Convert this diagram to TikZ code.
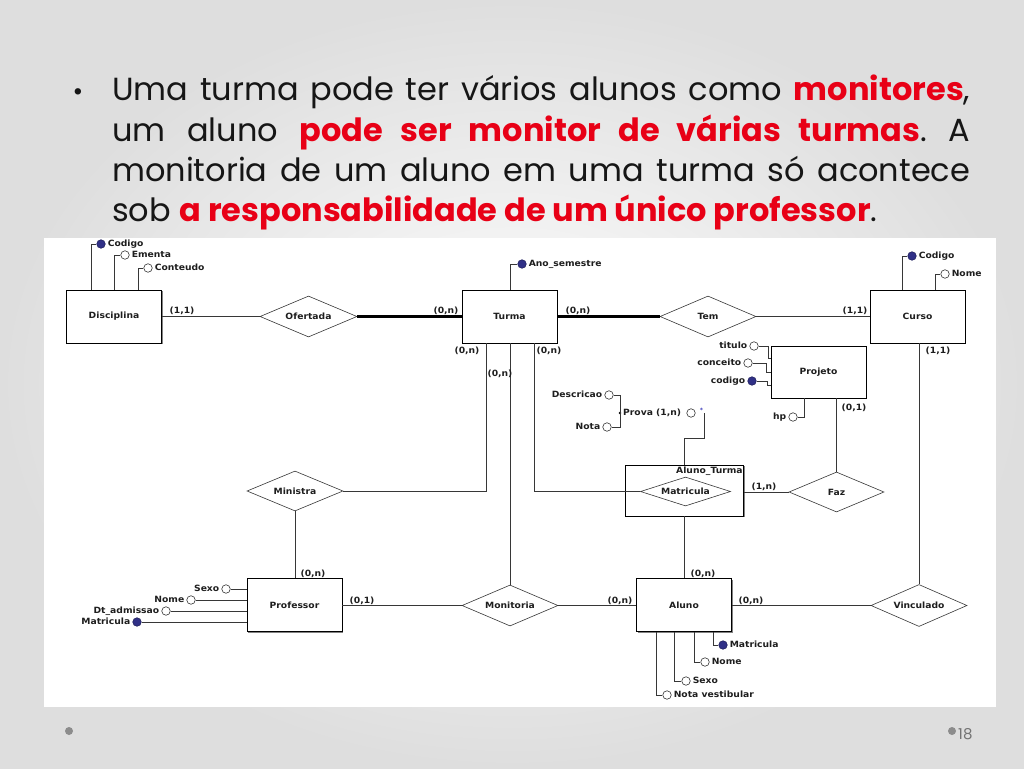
\documentclass[tikz,border=0pt]{standalone}
\usepackage{fontspec}
\setmainfont{Poppins}
\newfontfamily\dgfont{DejaVu Sans}[FakeStretch=1.07]
\usetikzlibrary{shapes.geometric,shadows,calc}
\definecolor{ttl}{RGB}{22,22,22}
\definecolor{hl}{RGB}{232,0,22}
\definecolor{keyc}{RGB}{48,48,135}
\definecolor{dtxt}{RGB}{30,30,30}
\definecolor{lnc}{RGB}{55,55,55}
\definecolor{bgo}{RGB}{222,222,222}
\frenchspacing
\begin{document}
\begin{tikzpicture}[x=1pt,y=-1pt,
  dg/.style={font=\dgfont\bfseries\fontsize{8.6}{9.5}\selectfont,text=dtxt},
  ent/.style={dg,rectangle,draw=black,line width=0.7pt,fill=white,minimum width=95pt,minimum height=53pt,inner sep=0pt,
    drop shadow={shadow xshift=1.4pt,shadow yshift=-1.4pt,opacity=0.75,fill=black!65}},
  rel/.style={dg,diamond,draw=lnc,line width=0.6pt,fill=white,minimum width=96pt,minimum height=41pt,inner sep=0pt,aspect=2.34},
  card/.style={dg,inner sep=0pt},
  atxt/.style={dg,inner sep=0pt},
  att/.style={circle,draw=black!80,line width=0.6pt,fill=white,minimum size=8.5pt,inner sep=0pt},
  key/.style={att,fill=keyc,draw=keyc!70!black},
  ln/.style={draw=lnc,line width=0.6pt},
  thk/.style={draw=black,line width=2.4pt},
  ttxt/.style={inner sep=0pt,text=ttl,font=\fontsize{32}{38}\selectfont\frenchspacing,anchor=base west}
]
\useasboundingbox (0,0) rectangle (1024,768);
\shade[inner color=white,outer color=bgo] (0,0) rectangle (1024,768);
\fill[white] (44,238) rectangle (996,707);

% ---------- title ----------
\node[ttxt,anchor=base,font=\fontsize{26}{30}\selectfont] (bul) at (78,100) {•};
\node[ttxt] (l1) at (112,100) {\hbox to 858pt{Uma turma pode ter vários alunos como {\bfseries\color{hl}monitores},}};
\node[ttxt] (l2) at (112,141) {\hbox to 858pt{um aluno {\bfseries\color{hl}pode ser monitor de várias turmas}. A}};
\node[ttxt] (l3) at (112,181) {\hbox to 858pt{monitoria de um aluno em uma turma só acontece}};
\node[ttxt] (l4) at (112,221) {sob {\bfseries\color{hl}a responsabilidade de um único professor}.};

% ---------- footer ----------
\node[circle,fill=black!45,minimum size=8pt,inner sep=0pt] (fd1) at (69,731) {};
\node[circle,fill=black!45,minimum size=8pt,inner sep=0pt] (fd2) at (952,731) {};
\node[inner sep=0pt,anchor=base west,text=black!55,font=\fontsize{15}{18}\selectfont] (pg) at (958,739) {18};

% ---------- relationships & boxes ----------
\node[ent] (Dis) at (114,316.5) {Disciplina};
\node[ent] (Tur) at (509.5,316.5) {Turma};
\node[ent] (Cur) at (917.5,316.5) {Curso};
\node[ent,minimum height=52pt] (Pro) at (818.5,372) {Projeto};
\node[ent] (Prof) at (294.5,605) {Professor};
\node[ent] (Alu) at (684,605) {Aluno};
\node[ent,minimum width=118pt,minimum height=51pt] (AT) at (684.5,490.5) {};
\node[atxt,anchor=north east] (ATl) at ([xshift=-1pt,yshift=-2.5pt]AT.north east) {Aluno\_Turma};

\node[rel,minimum width=97pt] (Ofe) at (308.5,316.5) {Ofertada};
\node[rel] (Tem) at (708,316.5) {Tem};
\node[rel,minimum height=40pt] (Min) at (295,491) {Ministra};
\node[rel,minimum width=90pt,minimum height=29pt,aspect=3.1] (Mat) at (685.5,491.5) {Matricula};
\node[rel,minimum width=95pt,minimum height=40pt] (Faz) at (836.5,492) {Faz};
\node[rel] (Mon) at (510,605.5) {Monitoria};
\node[rel,minimum height=42pt] (Vin) at (919,605.5) {Vinculado};

% ---------- connectors ----------
\draw[ln] (Dis.east) -- (Ofe.west);
\draw[thk] (Ofe.east) -- (Tur.west);
\draw[thk] (Tur.east) -- (Tem.west);
\draw[ln] (Tem.east) -- (Cur.west);
\draw[ln] (Vin.north |- Cur.south) -- (Vin.north);
\draw[ln] ([xshift=-23pt]Tur.south) |- (Min.east);
\draw[ln] (Mon.north |- Tur.south) -- (Mon.north);
\draw[ln] ([xshift=25pt]Tur.south) |- (Mat.west);
\draw[ln] (Min.south) -- (Min.south |- Prof.north);
\draw[ln] (Prof.east |- Mon.west) -- (Mon.west);
\draw[ln] (Mon.east) -- (Mon.east -| Alu.west);
\draw[ln] (Vin.west -| Alu.east) -- (Vin.west);
\draw[ln] (AT.south) -- (AT.south |- Alu.north);
\draw[ln] (AT.east |- Faz.west) -- (Faz.west);
\draw[ln] (Faz.north |- Pro.south) -- (Faz.north);

% ---------- cardinalities ----------
\node[card] (c1) at (182,311) {(1,1)};
\node[card] (c2) at (446,311) {(0,n)};
\node[card] (c3) at (578,311) {(0,n)};
\node[card] (c4) at (855,311) {(1,1)};
\node[card] (c5) at (938,351) {(1,1)};
\node[card] (c6) at (467,351) {(0,n)};
\node[card] (c7) at (500,374) {(0,n)};
\node[card] (c8) at (549,351) {(0,n)};
\node[card] (c9) at (854,408) {(0,1)};
\node[card] (c10) at (764,487) {(1,n)};
\node[card] (c11) at (313,574) {(0,n)};
\node[card] (c12) at (362,601) {(0,1)};
\node[card] (c13) at (620,601) {(0,n)};
\node[card] (c14) at (703,574) {(0,n)};
\node[card] (c15) at (751,601) {(0,n)};

% ---------- attributes: Disciplina ----------
\node[key] (dA) at (101,244) {};
\node[atxt,anchor=mid west] (dAt) at ([xshift=2pt]dA.east) {Codigo};
\draw[ln] ([xshift=-23pt]Dis.north) |- (dA.west);
\node[att] (dB) at (125,255) {};
\node[atxt,anchor=mid west] (dBt) at ([xshift=2pt]dB.east) {Ementa};
\draw[ln] (Dis.north) |- (dB.west);
\node[att] (dC) at (148,268) {};
\node[atxt,anchor=mid west] (dCt) at ([xshift=2pt]dC.east) {Conteudo};
\draw[ln] ([xshift=24pt]Dis.north) |- (dC.west);

% ---------- Turma ----------
\node[key] (tA) at (522,264) {};
\node[atxt,anchor=mid west] (tAt) at ([xshift=2pt]tA.east) {Ano\_semestre};
\draw[ln] ([xshift=0.5pt]Tur.north) |- (tA.west);

% ---------- Curso ----------
\node[key] (cA) at (912,256) {};
\node[atxt,anchor=mid west] (cAt) at ([xshift=2pt]cA.east) {Codigo};
\draw[ln] ([xshift=-15.5pt]Cur.north) |- (cA.west);
\node[att] (cB) at (945,274) {};
\node[atxt,anchor=mid west] (cBt) at ([xshift=2pt]cB.east) {Nome};
\draw[ln] ([xshift=17.5pt]Cur.north) |- (cB.west);

% ---------- Projeto ----------
\node[att] (pA) at (754,346) {};
\node[atxt,anchor=mid east] (pAt) at ([xshift=-2pt]pA.west) {titulo};
\draw[ln] (pA.east) -- ++(10,0) |- ([yshift=14pt]Pro.west);
\node[att] (pB) at (748,363) {};
\node[atxt,anchor=mid east] (pBt) at ([xshift=-2pt]pB.west) {conceito};
\draw[ln] (pB.east) -- ++(14,0) |- (Pro.west);
\node[key] (pC) at (752,381) {};
\node[atxt,anchor=mid east] (pCt) at ([xshift=-2pt]pC.west) {codigo};
\draw[ln] (pC.east) -- ++(11,0) |- ([yshift=-13pt]Pro.west);
\node[att] (pD) at (793,417) {};
\node[atxt,anchor=mid east] (pDt) at ([xshift=-2pt]pD.west) {hp};
\draw[ln] (pD.east) -| ([xshift=-14.5pt]Pro.south);

% ---------- Prova (multivalued composite) ----------
\node[circle,fill=black,minimum size=2.6pt,inner sep=0pt] (pj) at (620,413) {};
\node[atxt,anchor=mid west] (prt) at (623,413) {Prova (1,n)};
\node[att] (pr) at (691,413) {};
\node[inner sep=0pt,text=blue!65!black,font=\dgfont\fontsize{6}{6}\selectfont] (ast) at (701.5,410) {*};
\coordinate (pe) at (704,413);
\draw[ln] (AT.north) -- ++(0,-26) -| (pe);
\node[att] (de) at (609,395) {};
\node[atxt,anchor=mid east] (det) at ([xshift=-2pt]de.west) {Descricao};
\node[att] (no) at (607,427) {};
\node[atxt,anchor=mid east] (not) at ([xshift=-2pt]no.west) {Nota};
\draw[ln] (de.east) -| (pj.center) |- (no.east);

% ---------- Professor ----------
\node[att] (fA) at (226,589) {};
\node[atxt,anchor=mid east] (fAt) at ([xshift=-2pt]fA.west) {Sexo};
\draw[ln] (fA.east) -- (fA.east -| Prof.west);
\node[att] (fB) at (191,600) {};
\node[atxt,anchor=mid east] (fBt) at ([xshift=-2pt]fB.west) {Nome};
\draw[ln] (fB.east) -- (fB.east -| Prof.west);
\node[att] (fC) at (166,611) {};
\node[atxt,anchor=mid east] (fCt) at ([xshift=-2pt]fC.west) {Dt\_admissao};
\draw[ln] (fC.east) -- (fC.east -| Prof.west);
\node[key] (fD) at (137,622) {};
\node[atxt,anchor=mid east] (fDt) at ([xshift=-2pt]fD.west) {Matricula};
\draw[ln] (fD.east) -- (fD.east -| Prof.west);

% ---------- Aluno ----------
\node[key] (aA) at (723,645) {};
\node[atxt,anchor=mid west] (aAt) at ([xshift=2pt]aA.east) {Matricula};
\draw[ln] ([xshift=29pt]Alu.south) |- (aA.west);
\node[att] (aB) at (705,662) {};
\node[atxt,anchor=mid west] (aBt) at ([xshift=2pt]aB.east) {Nome};
\draw[ln] ([xshift=10pt]Alu.south) |- (aB.west);
\node[att] (aC) at (686,681) {};
\node[atxt,anchor=mid west] (aCt) at ([xshift=2pt]aC.east) {Sexo};
\draw[ln] ([xshift=-10pt]Alu.south) |- (aC.west);
\node[att] (aD) at (667,695) {};
\node[atxt,anchor=mid west] (aDt) at ([xshift=2pt]aD.east) {Nota vestibular};
\draw[ln] ([xshift=-27.5pt]Alu.south) |- (aD.west);
\end{tikzpicture}
\end{document}
